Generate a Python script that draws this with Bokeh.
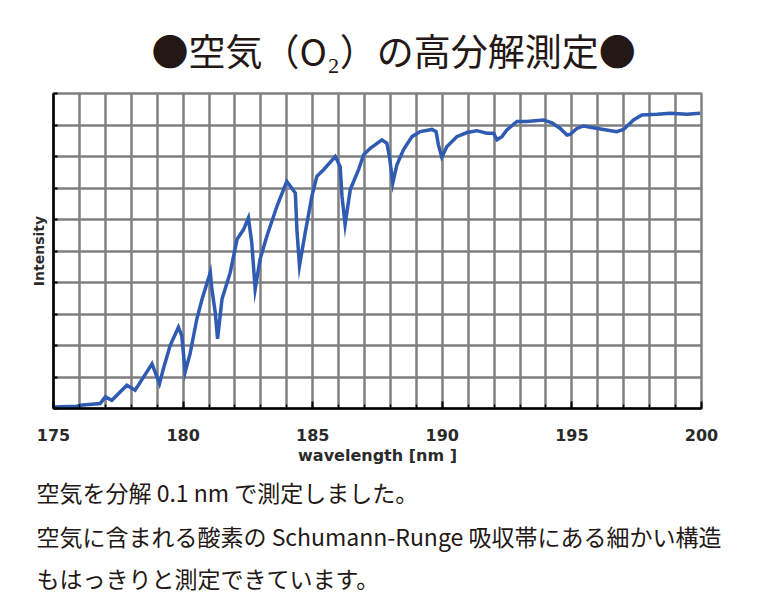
from bokeh.plotting import figure
from bokeh.models import Range1d, FixedTicker, Title
from bokeh.embed import file_html
from bokeh.resources import INLINE

# ---- data ----
wavelength = [175.00, 175.90, 176.03, 176.80, 177.00, 177.25, 177.83, 178.15, 178.80, 179.09,
              179.24, 179.50, 179.82, 179.95, 180.08, 180.27, 180.53, 180.73, 181.05, 181.11,
              181.24, 181.33, 181.50, 181.82, 182.08, 182.33, 182.52, 182.65, 182.78, 182.97,
              183.23, 183.62, 184.00, 184.33, 184.39, 184.49, 184.71, 184.97, 185.16, 185.42,
              185.87, 186.06, 186.13, 186.25, 186.45, 186.77, 186.96, 187.22, 187.67, 187.86,
              187.96, 188.09, 188.25, 188.50, 188.83, 189.15, 189.60, 189.76, 189.85, 189.98,
              190.18, 190.56, 190.95, 191.33, 191.72, 191.98, 192.11, 192.30, 192.49, 192.88,
              193.26, 193.90, 194.23, 194.55, 194.81, 194.93, 195.19, 195.45, 195.71, 196.22,
              196.73, 196.99, 197.38, 197.70, 198.28, 198.79, 199.44, 199.95]
intensity = [0.05, 0.07, 0.10, 0.16, 0.37, 0.26, 0.74, 0.58, 1.42, 0.79,
             1.26, 2.00, 2.58, 2.31, 1.16, 1.74, 2.84, 3.47, 4.32, 3.79,
             3.05, 2.21, 3.47, 4.32, 5.37, 5.68, 6.05, 5.26, 3.79, 4.74,
             5.47, 6.42, 7.21, 6.84, 5.68, 4.53, 5.58, 6.74, 7.37, 7.58,
             8.00, 7.68, 6.74, 5.84, 6.95, 7.58, 8.05, 8.26, 8.53, 8.42,
             8.00, 7.16, 7.74, 8.21, 8.63, 8.79, 8.86, 8.79, 8.37, 7.98,
             8.32, 8.63, 8.76, 8.82, 8.74, 8.74, 8.53, 8.63, 8.84, 9.11,
             9.11, 9.16, 9.07, 8.89, 8.68, 8.70, 8.89, 8.97, 8.93, 8.86,
             8.79, 8.86, 9.16, 9.32, 9.34, 9.37, 9.34, 9.37]

x_major_ticks = [175, 180, 185, 190, 195, 200]
x_grid_ticks = list(range(175, 201))
y_grid_ticks = list(range(0, 11))

title_text = "●空気（O₂）の高分解測定●"
note_lines = ["空気を分解 0.1 nm で測定しました。",
              "空気に含まれる酸素の Schumann-Runge 吸収帯にある細かい構造",
              "もはっきりと測定できています。"]
x_label = "wavelength [nm ]"
y_label = "Intensity"

# ---- figure ----
p = figure(width=747, height=600, output_backend="svg", toolbar_location=None,
           x_range=Range1d(175, 200), y_range=Range1d(0, 10),
           min_border_left=53, min_border_top=93, min_border_right=46, min_border_bottom=190)
p.background_fill_color = "white"
p.border_fill_color = "white"
p.outline_line_color = "#808080"
p.outline_line_width = 2.5

grid_color = "#808080"
p.xgrid.ticker = FixedTicker(ticks=x_grid_ticks)
p.ygrid.ticker = FixedTicker(ticks=y_grid_ticks)
for g in (p.xgrid, p.ygrid):
    g.grid_line_color = grid_color
    g.grid_line_width = 2.5
    g.grid_line_alpha = 1.0

xa = p.xaxis[0]
xa.ticker = FixedTicker(ticks=x_major_ticks, minor_ticks=x_grid_ticks)
xa.axis_line_color = "black"
xa.axis_line_width = 2.5
xa.major_tick_in = 7
xa.major_tick_out = 0
xa.minor_tick_in = 4
xa.minor_tick_out = 0
xa.major_tick_line_color = "black"
xa.major_tick_line_width = 2
xa.minor_tick_line_color = "black"
xa.minor_tick_line_width = 1.5
xa.major_label_text_font = "DejaVu Sans"
xa.major_label_text_font_style = "bold"
xa.major_label_text_font_size = "16px"
xa.major_label_text_color = "#2a2a2a"
xa.major_label_standoff = 20
xa.axis_label = x_label
xa.axis_label_text_font = "DejaVu Sans"
xa.axis_label_text_font_style = "bold"
xa.axis_label_text_font_size = "16px"
xa.axis_label_text_color = "#2a2a2a"
xa.axis_label_standoff = 2

ya = p.yaxis[0]
ya.ticker = FixedTicker(ticks=[], minor_ticks=y_grid_ticks)
ya.axis_line_color = "black"
ya.axis_line_width = 2.5
ya.major_tick_in = 0
ya.major_tick_out = 0
ya.minor_tick_in = 4
ya.minor_tick_out = 0
ya.minor_tick_line_color = "black"
ya.minor_tick_line_width = 2
ya.major_label_standoff = 0
ya.axis_label = y_label
ya.axis_label_text_font = "DejaVu Sans"
ya.axis_label_text_font_style = "bold"
ya.axis_label_text_font_size = "14px"
ya.axis_label_text_color = "#2a2a2a"
ya.axis_label_standoff = 7

p.line(wavelength, intensity, line_color="#2f5cb2", line_width=3.5, line_join="miter")

# ---- texts ----
p.add_layout(Title(text=title_text, align="left", offset=98, vertical_align="middle",
                   text_font="Noto Sans CJK JP", text_font_style="normal",
                   text_font_size="37px", text_color="#231815", standoff=32), "above")
for line, gap in zip(note_lines, [13, 2, 10]):
    p.add_layout(Title(text=line, align="left", offset=-17, vertical_align="middle",
                       text_font="Noto Sans CJK JP", text_font_style="normal",
                       text_font_size="23px", text_color="#231815", standoff=gap), "below")

open("out.html", "w").write(file_html(p, INLINE))
